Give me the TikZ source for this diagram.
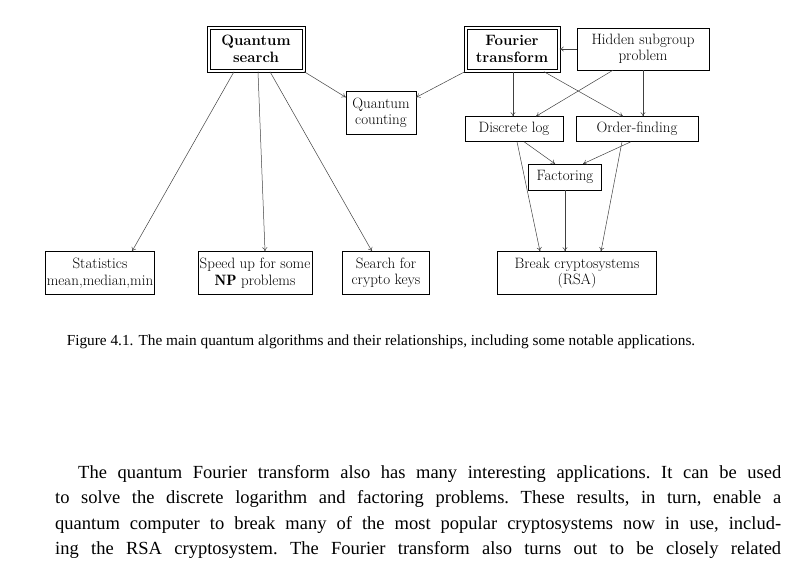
\documentclass[tikz,border=0pt]{standalone}
\usepackage{fontspec}
\newfontfamily\capfont{Liberation Serif}
\usetikzlibrary{arrows.meta}
\tikzset{
  box/.style={draw, inner sep=1.5pt, align=center, font=\fontsize{15}{16.5}\selectfont},
  main/.style={box, font=\fontsize{15}{16.5}\selectfont\bfseries},
  frame/.style={draw, line width=0.4pt},
  link/.style={draw=black!75, line width=0.5pt, -{To[length=4pt,width=5pt]}}
}
\begin{document}
\begin{tikzpicture}[x=1pt,y=-1pt]
\useasboundingbox (0,0) rectangle (793,566);
%algorithms
\node[main, minimum width=92pt, minimum height=40pt] (qs) at (256,49) {Quantum\\search};
\node[main, minimum width=90pt, minimum height=40pt] (ft) at (512,49) {Fourier\\transform};
\draw[frame] ([shift={(-2.5pt,-2.5pt)}]qs.south west) rectangle ([shift={(2.5pt,2.5pt)}]qs.north east);
\draw[frame] ([shift={(-2.5pt,-2.5pt)}]ft.south west) rectangle ([shift={(2.5pt,2.5pt)}]ft.north east);
\node[box, minimum width=132pt, minimum height=42pt] (hsp) at (643,49) {Hidden subgroup\\problem};
\node[box, minimum width=70pt, minimum height=43pt] (qc) at (381,113) {Quantum\\counting};
\node[box, minimum width=98pt, minimum height=25pt] (dl) at (514,129) {Discrete log};
\node[box, minimum width=122pt, minimum height=25pt] (of) at (637,129) {Order-finding};
\node[box, minimum width=73pt, minimum height=26pt] (fac) at (565,177) {Factoring};
%applications
\node[box, minimum width=99pt, minimum height=43pt] (stat) at (100,273) {Statistics\\mean,median,min};
\node[box, minimum width=114pt, minimum height=43pt] (np) at (255,273) {Speed up for some\\$\mathbf{NP}$ problems};
\node[box, minimum width=87pt, minimum height=43pt] (key) at (386,273) {Search for\\crypto keys};
\node[box, minimum width=159pt, minimum height=43pt] (rsa) at (577,273) {Break cryptosystems\\(RSA)};
%relationships
\draw[link] ([xshift=-22pt,yshift=-2.5pt]qs.south) -- ([xshift=32pt]stat.north);
\draw[link] ([xshift=2pt,yshift=-2.5pt]qs.south) -- ([xshift=10pt]np.north);
\draw[link] ([xshift=14pt,yshift=-2.5pt]qs.south) -- ([xshift=-14pt]key.north);
\draw[link] ([shift={(2pt,-2.5pt)}]qs.south east) -- ([yshift=-6pt]qc.north west);
\draw[link] ([shift={(-2pt,-2.5pt)}]ft.south west) -- ([yshift=-6pt]qc.north east);
\draw[link] (hsp.west) -- ([xshift=2.5pt]ft.east);
\draw[link] ([xshift=1pt,yshift=-2.5pt]ft.south) -- ([xshift=-1pt]dl.north);
\draw[link] ([xshift=32pt,yshift=-2.5pt]ft.south) -- ([xshift=-14pt]of.north);
\draw[link] ([xshift=-30pt]hsp.south) -- ([xshift=22pt]dl.north);
\draw[link] ([xshift=0pt]hsp.south) -- ([xshift=6pt]of.north);
\draw[link] ([xshift=10pt]dl.south) -- ([xshift=-10pt]fac.north);
\draw[link] ([xshift=-6pt]of.south) -- ([xshift=18pt]fac.north);
\draw[link] ([xshift=3pt]dl.south) -- ([xshift=-37pt]rsa.north);
\draw[link] (fac.south) -- ([xshift=-12pt]rsa.north);
\draw[link] ([xshift=-15pt]of.south) -- ([xshift=24pt]rsa.north);
%caption and text
\node[font=\capfont\fontsize{15.3}{17}\selectfont] (cap) at (381,342) {Figure 4.1. The main quantum algorithms and their relationships, including some notable applications.};
\node[anchor=north west, inner sep=0pt, text width=726pt, align=justify,
  font=\capfont\fontsize{18.5}{25.5}\selectfont] (txt) at (55,465) {\frenchspacing\hspace*{23pt}The quantum Fourier transform also has many interesting applications. It can be used\linebreak
to solve the discrete logarithm and factoring problems. These results, in turn, enable a\linebreak
quantum computer to break many of the most popular cryptosystems now in use, includ-\linebreak
\makebox[726pt][s]{ing the RSA cryptosystem. The Fourier transform also turns out to be closely related}};
\end{tikzpicture}
\end{document}
